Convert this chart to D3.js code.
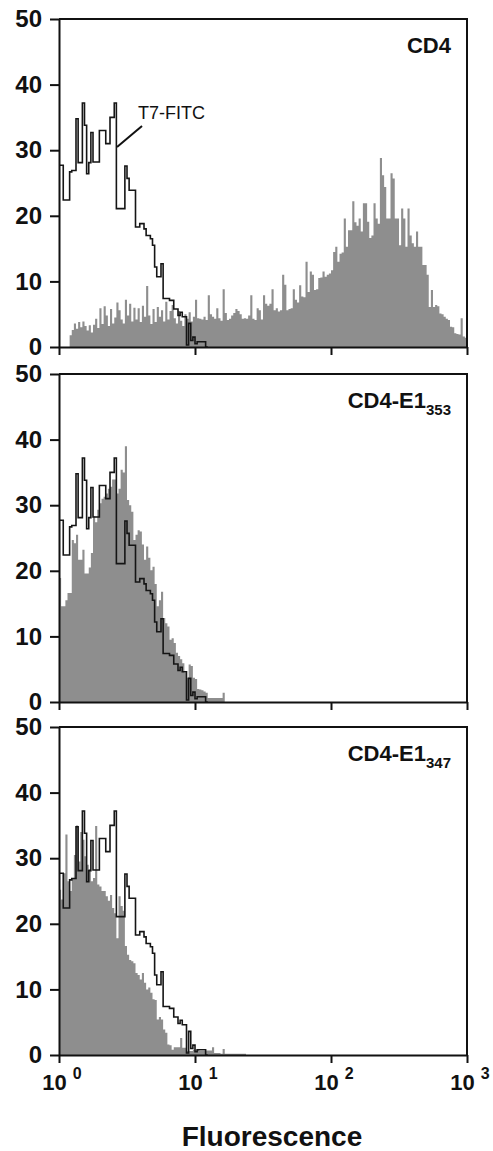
<!DOCTYPE html>
<html>
<head lang="en">
  <meta charset="UTF-8">
  <title>CD4 / CD4-E1 fluorescence histograms</title>
  <style>
    body { margin: 0; background: #fff; }
    svg { display: block; font-family: "Liberation Sans", Arial, sans-serif; }
    .frame { fill: none; stroke: #111; stroke-width: 2; }
    .axis path, .axis line { stroke: #111; stroke-width: 2; }
    .axis text { font-weight: bold; font-size: 24px; fill: #111; }
    .gray { fill: #8e8e8e; }
    .outline { fill: none; stroke: #151515; stroke-width: 1.6; }
    .label { font-weight: bold; fill: #111; }
  </style>
</head>
<body>

<svg id="chart" width="493" height="1151"></svg>

<script src="https://cdn.jsdelivr.net/npm/d3@7"></script>
<script>
  // histogram channels: 64 per decade, 10^0 .. 10^3
  var channelsPerDecade = 64;
  var decades = [1, 10, 100, 1000];
  var exponents = ['0', '1', '2', '3'];
  var countTicks = [0, 10, 20, 30, 40, 50];
  var panelNames = ['CD4', 'CD4-E1', 'CD4-E1'];
  var panelSubs = ['', '353', '347'];

  // T7-FITC control (black outline, same in every panel)
  var t7fitc = [
    27.7, 27.7, 22.4, 22.4, 22.4, 26.7, 26.9, 26.9, 34.8, 28.1,
    28.1, 37.2, 33.8, 26.4, 28.1, 32.7, 28.2, 28.2, 28.2, 33.0,
    33.0, 33.0, 31.0, 31.0, 35.0, 35.0, 37.2, 21.1, 21.1, 21.1,
    21.1, 27.6, 25.7, 23.9, 23.9, 23.9, 18.3, 18.3, 18.8, 18.8,
    18.0, 17.0, 17.0, 16.5, 15.5, 12.2, 10.7, 10.7, 12.7, 7.4,
    7.4, 7.4, 7.1, 7.1, 5.8, 5.8, 4.8, 5.3, 4.6, 4.6,
    0.3, 3.6, 1.0, 1.5, 0.5, 0.8, 0.8, 0.8, 0.8, 0
  ];

  var cd4 = [
    0, 0, 0, 0, 0, 1.8, 2.6, 3.6, 2.8, 3.8,
    3.0, 3.9, 3.2, 2.5, 3.3, 2.2, 3.4, 4.3, 2.9, 5.9,
    3.5, 6.2, 4.8, 3.2, 5.8, 3.6, 4.5, 6.8, 5.6, 4.2,
    3.6, 7.2, 4.8, 6.6, 3.9, 6.0, 4.2, 5.9, 3.8, 6.3,
    4.6, 9.3, 4.8, 3.5, 5.8, 3.8, 6.1, 4.6, 5.6, 3.9,
    6.9, 4.2, 5.5, 6.4, 4.4, 3.6, 5.5, 4.0, 3.2, 5.0,
    4.3, 5.3, 3.9, 4.6, 7.2, 4.4, 4.3, 4.2, 4.6, 4.1,
    7.9, 5.0, 4.6, 4.3, 5.9, 4.4, 4.0, 8.8, 5.2, 4.1,
    4.3, 4.8, 5.2, 5.8, 5.5, 5.0, 4.3, 4.4, 4.3, 4.8,
    7.9, 4.3, 4.1, 5.9, 5.6, 4.2, 7.9, 6.6, 6.3, 6.6,
    8.8, 5.6, 5.9, 5.4, 5.6, 11.0, 9.5, 5.6, 5.8, 5.9,
    8.8, 7.2, 6.8, 9.4, 7.7, 7.6, 13.0, 8.4, 11.5, 11.0,
    8.7, 8.8, 10.5, 10.6, 11.5, 10.7, 11.0, 11.2, 11.7, 14.5,
    15.3, 13.0, 14.2, 14.4, 19.6, 15.3, 17.8, 17.8, 22.2, 19.0,
    18.5, 19.6, 17.6, 21.9, 21.9, 19.1, 16.6, 17.0, 21.9, 19.6,
    18.8, 28.8, 26.2, 24.4, 19.6, 19.6, 26.5, 25.7, 19.6, 19.6,
    15.5, 21.1, 19.6, 15.3, 21.1, 17.0, 15.8, 15.3, 17.6, 15.3,
    15.3, 12.5, 12.5, 11.0, 6.1, 8.7, 6.1, 6.4, 6.2, 5.1,
    5.0, 4.6, 4.3, 4.1, 3.1, 3.0, 2.1, 2.0, 1.9, 4.4,
    1.6, 1.4
  ];

  var cd4E1353 = [
    18.9, 14.6, 14.6, 15.5, 16.6, 16.6, 24.7, 24.2, 25.5, 21.7,
    21.7, 23.2, 19.6, 19.6, 20.5, 22.7, 28.3, 27.4, 29.3, 30.3,
    31.0, 31.3, 31.8, 32.5, 32.8, 33.9, 33.9, 31.8, 32.5, 35.4,
    35.0, 39.0, 30.8, 30.0, 29.0, 24.7, 25.5, 26.2, 26.0, 24.0,
    21.7, 23.7, 22.0, 20.1, 20.6, 18.0, 14.6, 15.5, 16.8, 12.8,
    12.0, 11.5, 9.5, 9.7, 9.0, 7.5, 7.0, 6.5, 5.9, 4.5,
    3.7, 5.7, 5.5, 3.7, 3.5, 2.0, 1.9, 1.8, 1.6, 1.4,
    0.6, 0.6, 0.6, 0.6, 0.6, 0.6, 0.6, 1.4
  ];

  var cd4E1347 = [
    25.2, 23.7, 27.7, 33.6, 26.5, 25.0, 27.0, 30.5, 35.0, 29.5,
    34.0, 32.8, 30.3, 29.0, 28.3, 26.5, 27.0, 34.9, 26.0, 25.7,
    25.0, 25.0, 24.2, 23.5, 24.4, 22.4, 21.6, 17.8, 24.2, 22.7,
    22.0, 16.6, 15.3, 14.5, 14.3, 14.0, 12.5, 12.2, 11.5, 12.5,
    11.0, 10.0, 10.3, 9.5, 8.5, 8.4, 5.4, 5.8, 5.4, 3.9,
    3.4, 1.6, 1.5, 0.8, 1.2, 1.2, 1.2, 2.6, 1.1, 1.1,
    0.6, 0.6, 0.6, 0.8, 0.8, 0.8, 0.6, 0.6, 0.6, 0.7,
    0.7, 0.7, 1.2, 0.3, 0.3, 0.3, 0.2, 0.9, 0.2, 0.2,
    0.2, 0.2, 0.2, 0.2, 0.2, 0.2, 0.2, 0.2
  ];

  var panelSeries = [cd4, cd4E1353, cd4E1347];

  // layout
  var left = 59, right = 467, panelHeight = 328;
  var panelTops = [19, 374, 727];

  var chart = d3.select('#chart');

  var x = d3.scaleLog().domain([1, 1000]).range([left, right]);
  var y = d3.scaleLinear().domain([0, 50]).range([panelHeight, 0]);

  function channelX(i) {
    return x(Math.pow(10, i / channelsPerDecade));
  }

  // step points, with a closing point at the end of the last channel
  function stepPoints(values) {
    var pts = values.map(function (v, i) { return [channelX(i), v]; });
    pts.push([channelX(values.length), values[values.length - 1]]);
    return pts;
  }

  var area = d3.area()
    .curve(d3.curveStepAfter)
    .x(function (d) { return d[0]; })
    .y0(y(0))
    .y1(function (d) { return y(d[1]); });

  var line = d3.line()
    .curve(d3.curveStepAfter)
    .x(function (d) { return d[0]; })
    .y(function (d) { return y(d[1]); });

  panelSeries.forEach(function (series, p) {
    var g = chart.append('g')
      .attr('transform', 'translate(0,' + panelTops[p] + ')');

    g.append('path')
      .datum(stepPoints(series))
      .attr('class', 'gray')
      .attr('d', area);

    g.append('path')
      .datum(stepPoints(t7fitc))
      .attr('class', 'outline')
      .attr('d', line);

    // top and right border
    g.append('path')
      .attr('class', 'frame')
      .attr('d', 'M' + left + ',' + y(50) + 'H' + right + 'V' + y(0));

    g.append('g')
      .attr('class', 'axis')
      .attr('transform', 'translate(' + left + ',0)')
      .call(d3.axisLeft(y).tickValues(countTicks).tickSize(9).tickSizeOuter(0).tickPadding(8));

    g.append('g')
      .attr('class', 'axis')
      .attr('transform', 'translate(0,' + y(0) + ')')
      .call(d3.axisBottom(x).tickValues(decades).tickSize(8).tickSizeOuter(0).tickFormat(''));

    // panel name with optional subscript
    var name = g.append('text')
      .attr('class', 'label')
      .attr('x', 451)
      .attr('y', 34)
      .attr('text-anchor', 'end')
      .style('font-size', '22px')
      .text(panelNames[p]);
    if (panelSubs[p]) {
      name.append('tspan')
        .attr('dy', 7)
        .style('font-size', '15px')
        .text(panelSubs[p]);
    }

    // x tick labels only under the last panel
    if (p === panelSeries.length - 1) {
      decades.forEach(function (d, i) {
        var t = g.append('text')
          .attr('class', 'label')
          .attr('x', x(d) + 3)
          .attr('y', y(0) + 35)
          .attr('text-anchor', 'middle')
          .style('font-size', '22px')
          .text('10');
        t.append('tspan')
          .attr('dx', 6)
          .attr('dy', -11)
          .style('font-size', '16px')
          .text(exponents[i]);
      });
    }
  });

  // T7-FITC annotation in the first panel, pointing at the outline
  var tip = [channelX(27.3), panelTops[0] + y(30.5)];
  chart.append('line')
    .attr('x1', tip[0]).attr('y1', tip[1])
    .attr('x2', tip[0] + 25).attr('y2', tip[1] - 21)
    .attr('stroke', '#111')
    .attr('stroke-width', 2);
  chart.append('text')
    .attr('x', tip[0] + 21)
    .attr('y', tip[1] - 28)
    .style('font-size', '18px')
    .style('fill', '#111')
    .text('T7-FITC');

  chart.append('text')
    .attr('class', 'label')
    .attr('x', 272)
    .attr('y', 1146)
    .attr('text-anchor', 'middle')
    .style('font-size', '28px')
    .text('Fluorescence');
</script>
</body>
</html>
